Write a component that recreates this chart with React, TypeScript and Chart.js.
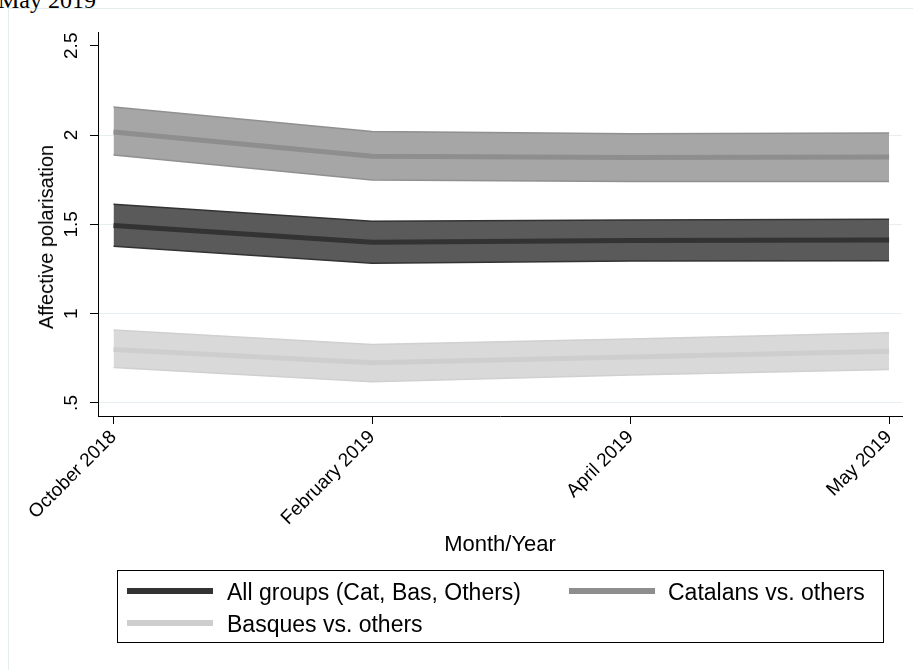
import React, { useEffect, useRef } from "react";
import { Chart, registerables } from "chart.js";

Chart.register(...registerables);

// Survey waves shown on the x axis
const months = ["October 2018", "February 2019", "April 2019", "May 2019"];

// Y axis ticks
const yTickValues = [0.5, 1, 1.5, 2, 2.5];
const yTickLabels = [".5", "1", "1.5", "2", "2.5"];

// All groups (Cat, Bas, Others): mean and confidence band
const allMean = [1.494, 1.4, 1.41, 1.412];
const allUpper = [1.612, 1.518, 1.525, 1.528];
const allLower = [1.378, 1.282, 1.295, 1.296];

// Catalans vs. others
const catMean = [2.017, 1.882, 1.875, 1.877];
const catUpper = [2.157, 2.02, 2.008, 2.011];
const catLower = [1.888, 1.748, 1.74, 1.74];

// Basques vs. others
const basMean = [0.8, 0.725, 0.757, 0.79];
const basUpper = [0.908, 0.828, 0.858, 0.893];
const basLower = [0.699, 0.619, 0.656, 0.688];

const FONT = "'Liberation Sans', Arial, Helvetica, sans-serif";

const toPoints = (vals: number[]) => vals.map((y, i) => ({ x: i, y }));

type Group = {
  label: string;
  mean: number[];
  upper: number[];
  lower: number[];
  fill: string;
  edge: string;
  line: string;
};

const groups: Group[] = [
  { label: "All groups (Cat, Bas, Others)", mean: allMean, upper: allUpper, lower: allLower, fill: "#5a5a5a", edge: "#333333", line: "#333333" },
  { label: "Catalans vs. others", mean: catMean, upper: catUpper, lower: catLower, fill: "#a6a6a6", edge: "#909090", line: "#8e8e8e" },
  { label: "Basques vs. others", mean: basMean, upper: basUpper, lower: basLower, fill: "#d9d9d9", edge: "#d0d0d0", line: "#cecece" },
];

function buildDatasets() {
  const sets: any[] = [];
  groups.forEach((g) => {
    const upperIndex = sets.length;
    sets.push({
      label: g.label + " upper",
      data: toPoints(g.upper),
      borderColor: g.edge,
      borderWidth: 1.5,
      backgroundColor: g.fill,
      fill: upperIndex + 1,
      pointRadius: 0,
      tension: 0,
      order: 2,
    });
    sets.push({
      label: g.label + " lower",
      data: toPoints(g.lower),
      borderColor: g.edge,
      borderWidth: 1.5,
      fill: false,
      pointRadius: 0,
      tension: 0,
      order: 2,
    });
  });
  groups.forEach((g) => {
    sets.push({
      label: g.label,
      data: toPoints(g.mean),
      borderColor: g.line,
      borderWidth: 5,
      fill: false,
      pointRadius: 0,
      tension: 0,
      order: 1,
    });
  });
  return sets;
}

function LineChart() {
  const ref = useRef<HTMLCanvasElement | null>(null);

  useEffect(() => {
    if (!ref.current) return;
    const tickFont = { family: FONT, size: 19 };
    const titleFont = { family: FONT, size: 22 };
    const chart = new Chart(ref.current, {
      type: "line",
      data: { datasets: buildDatasets() },
      options: {
        animation: false,
        responsive: false,
        events: [],
        layout: { padding: { top: 32, left: 33, right: 11, bottom: 112 } },
        plugins: {
          legend: { display: false },
          tooltip: { enabled: false },
          filler: { drawTime: "beforeDatasetsDraw" },
        },
        scales: {
          x: {
            type: "linear",
            min: -0.06,
            max: 3.05,
            afterBuildTicks: (s: any) => {
              s.ticks = months.map((_, i) => ({ value: i }));
            },
            afterFit: (s: any) => {
              s.height = 142;
            },
            ticks: {
              autoSkip: false,
              minRotation: 45,
              maxRotation: 45,
              padding: 2,
              color: "#000",
              font: tickFont,
              callback: (_v: any, i: number) => months[i],
            },
            grid: { drawOnChartArea: false, tickColor: "#000", tickLength: 8 },
            border: { display: true, color: "#000", width: 1 },
            title: { display: true, text: "Month/Year", color: "#000", font: titleFont, padding: 0 },
          },
          y: {
            type: "linear",
            min: 0.427,
            max: 2.577,
            afterBuildTicks: (s: any) => {
              s.ticks = yTickValues.map((v) => ({ value: v }));
            },
            afterFit: (s: any) => {
              s.width = 65;
            },
            ticks: {
              minRotation: 90,
              maxRotation: 90,
              crossAlign: "center",
              padding: 5,
              color: "#000",
              font: tickFont,
              callback: (_v: any, i: number) => yTickLabels[i],
            },
            grid: {
              // no grid line along the top tick
              color: (ctx: any) => (ctx.tick && ctx.tick.value >= 2.5 ? "rgba(0,0,0,0)" : "#e6eff1"),
              lineWidth: 1,
              tickColor: "#000",
              tickLength: 8,
            },
            border: { display: true, color: "#000", width: 1 },
            title: { display: false },
          },
        },
      } as any,
    });
    return () => chart.destroy();
  }, []);

  return <canvas ref={ref} width={913} height={670} style={{ position: "absolute", left: 0, top: 0 }} />;
}

const legendText: React.CSSProperties = {
  position: "absolute",
  fontFamily: FONT,
  fontSize: 23,
  lineHeight: "23px",
  color: "#000",
  whiteSpace: "nowrap",
};

function Legend() {
  const swatch = (left: number, top: number, color: string) => (
    <div style={{ position: "absolute", left, top, width: 86, height: 6, background: color }} />
  );
  return (
    <>
      <div
        style={{
          position: "absolute",
          left: 117,
          top: 570,
          width: 767,
          height: 73,
          border: "1px solid #000",
          boxSizing: "border-box",
        }}
      />
      {swatch(127, 588, groups[0].line)}
      <div style={{ ...legendText, left: 227, top: 581 }}>{groups[0].label}</div>
      {swatch(569, 588, groups[1].line)}
      <div style={{ ...legendText, left: 668, top: 581 }}>{groups[1].label}</div>
      {swatch(127, 620, groups[2].line)}
      <div style={{ ...legendText, left: 227, top: 613 }}>{groups[2].label}</div>
    </>
  );
}

export default function App() {
  return (
    <div style={{ position: "absolute", left: 0, top: 0, width: 913, height: 670, overflow: "hidden", background: "#fff" }}>
      <div
        style={{
          position: "absolute",
          left: 8,
          top: 8,
          width: 940,
          height: 700,
          borderLeft: "1px solid #e4ecee",
          borderTop: "1px solid #e4ecee",
        }}
      />
      <div
        style={{
          position: "absolute",
          left: -2,
          top: -12,
          fontFamily: "'Liberation Serif', 'Times New Roman', serif",
          fontSize: 24,
          lineHeight: "24px",
          color: "#000",
          whiteSpace: "nowrap",
        }}
      >
        May 2019
      </div>
      <LineChart />
      <Legend />
      <div
        style={{
          position: "absolute",
          left: 46,
          top: 237,
          transform: "translate(-50%, -50%) rotate(-90deg)",
          fontFamily: FONT,
          fontSize: 20,
          lineHeight: "20px",
          color: "#000",
          whiteSpace: "nowrap",
        }}
      >
        Affective polarisation
      </div>
    </div>
  );
}
